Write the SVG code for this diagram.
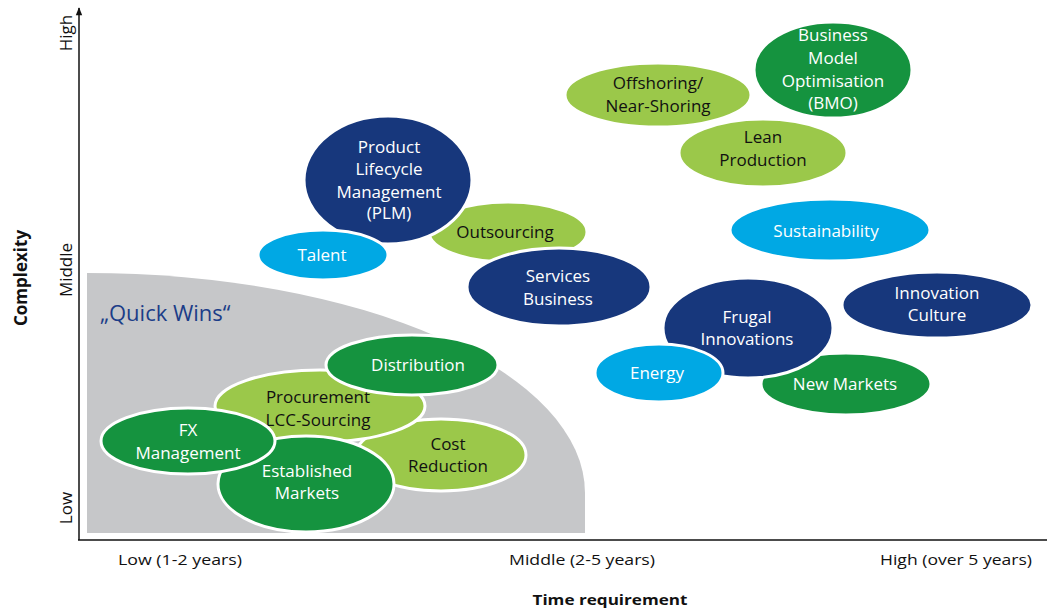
<svg xmlns="http://www.w3.org/2000/svg" width="1047" height="612" viewBox="0 0 1047 612">
<defs>
<style>
.e{stroke:#fff;stroke-width:3}
.db{fill:#17377c}
.gr{fill:#15933f}
.lg{fill:#9bc84a}
.cy{fill:#00a8e4}
.t{font-family:"Open Sans","Liberation Sans",sans-serif;font-size:17px;text-anchor:middle}
.w{fill:#fff}
.k{fill:#111}
.ax{font-family:"Open Sans","Liberation Sans",sans-serif;font-size:15px;fill:#111;text-anchor:middle}
.axv{font-family:"Open Sans","Liberation Sans",sans-serif;font-size:17px;fill:#111;text-anchor:middle}
.axb{font-family:"Open Sans","Liberation Sans",sans-serif;font-size:15px;font-weight:bold;fill:#111;text-anchor:middle}
</style>
<marker id="arr" viewBox="0 0 10 10" refX="5" refY="1" markerWidth="8" markerHeight="10" orient="0" markerUnits="userSpaceOnUse">
<path d="M1,10 L5,0 L9,10 Z" fill="#111"/>
</marker>
</defs>
<rect width="1047" height="612" fill="#fff"/>

<g id="quick-wins-area">
<path d="M87,533 V273 A498,220 0 0 1 585,493 V533 Z" fill="#c6c7c9"/>
<text x="100" y="321" style="font-family:'Open Sans','Liberation Sans',sans-serif;font-size:22px;fill:#1b3d88">„Quick Wins“</text>
</g>

<g id="axes">
<line x1="79" y1="540" x2="79" y2="8" stroke="#111" stroke-width="1.5" marker-end="url(#arr)"/>
<line x1="78" y1="540" x2="1047" y2="540" stroke="#111" stroke-width="1.5"/>
<text class="axv" transform="translate(72,33) rotate(-90)">High</text>
<text class="axv" transform="translate(72,270) rotate(-90)">Middle</text>
<text class="axv" transform="translate(72,508) rotate(-90)">Low</text>
<text class="axb" style="font-size:17px" transform="translate(27,278) rotate(-90)">Complexity</text>
<text class="ax" x="180" y="565" textLength="124" lengthAdjust="spacingAndGlyphs">Low (1-2 years)</text>
<text class="ax" x="582" y="565" textLength="146" lengthAdjust="spacingAndGlyphs">Middle (2-5 years)</text>
<text class="ax" x="956" y="565" textLength="152" lengthAdjust="spacingAndGlyphs">High (over 5 years)</text>
<text class="axb" x="610" y="605" textLength="155" lengthAdjust="spacingAndGlyphs">Time requirement</text>
</g>

<g id="connectors"></g>

<g id="bmo">
<ellipse class="e gr" cx="833" cy="70" rx="79" ry="48"/>
<text class="t w" x="833" y="41">Business</text>
<text class="t w" x="833" y="64">Model</text>
<text class="t w" x="833" y="87">Optimisation</text>
<text class="t w" x="833" y="109">(BMO)</text>
</g>
<g id="offshoring">
<ellipse class="e lg" cx="658" cy="95" rx="93" ry="32"/>
<text class="t k" x="658" y="89">Offshoring/</text>
<text class="t k" x="658" y="112">Near-Shoring</text>
</g>
<g id="lean">
<ellipse class="e lg" cx="763" cy="153" rx="84" ry="34"/>
<text class="t k" x="763" y="143">Lean</text>
<text class="t k" x="763" y="166">Production</text>
</g>
<g id="outsourcing">
<ellipse class="e lg" cx="508" cy="232" rx="79" ry="30"/>
<text class="t k" x="505" y="238">Outsourcing</text>
</g>
<g id="plm">
<ellipse class="e db" cx="388" cy="180" rx="84" ry="64"/>
<text class="t w" x="389" y="153">Product</text>
<text class="t w" x="389" y="175">Lifecycle</text>
<text class="t w" x="389" y="198">Management</text>
<text class="t w" x="389" y="219">(PLM)</text>
</g>
<g id="talent">
<ellipse class="e cy" cx="323" cy="255" rx="65" ry="25"/>
<text class="t w" x="322" y="261">Talent</text>
</g>
<g id="services">
<ellipse class="e db" cx="559" cy="287" rx="92" ry="39"/>
<text class="t w" x="558" y="282">Services</text>
<text class="t w" x="558" y="305">Business</text>
</g>
<g id="sustainability">
<ellipse class="e cy" cx="830" cy="230" rx="100" ry="31"/>
<text class="t w" x="826" y="237">Sustainability</text>
</g>
<g id="innovation-culture">
<ellipse class="e db" cx="937" cy="305" rx="95" ry="33"/>
<text class="t w" x="937" y="299">Innovation</text>
<text class="t w" x="937" y="321">Culture</text>
</g>
<g id="new-markets">
<ellipse class="e gr" cx="846" cy="384" rx="85" ry="31"/>
<text class="t w" x="845" y="390">New Markets</text>
</g>
<g id="frugal">
<ellipse class="e db" cx="748" cy="328" rx="85" ry="50"/>
<text class="t w" x="747" y="323">Frugal</text>
<text class="t w" x="747" y="345">Innovations</text>
</g>
<g id="energy">
<ellipse class="e cy" cx="659" cy="373" rx="64" ry="29"/>
<text class="t w" x="657" y="379">Energy</text>
</g>

<g id="cost-reduction">
<ellipse class="e lg" cx="441" cy="455" rx="85" ry="36"/>
<text class="t k" x="448" y="450">Cost</text>
<text class="t k" x="448" y="472">Reduction</text>
</g>
<g id="procurement">
<ellipse class="e lg" cx="320" cy="406" rx="105" ry="36"/>
<text class="t k" x="318" y="403">Procurement</text>
<text class="t k" x="318" y="426">LCC-Sourcing</text>
</g>
<g id="distribution">
<ellipse class="e gr" cx="412" cy="365" rx="86" ry="30"/>
<text class="t w" x="418" y="371">Distribution</text>
</g>
<g id="established-markets">
<ellipse class="e gr" cx="306" cy="484" rx="88" ry="48"/>
<text class="t w" x="307" y="477">Established</text>
<text class="t w" x="307" y="499">Markets</text>
</g>
<g id="fx">
<ellipse class="e gr" cx="188" cy="441" rx="87" ry="33"/>
<text class="t w" x="188" y="436">FX</text>
<text class="t w" x="188" y="459">Management</text>
</g>
</svg>
